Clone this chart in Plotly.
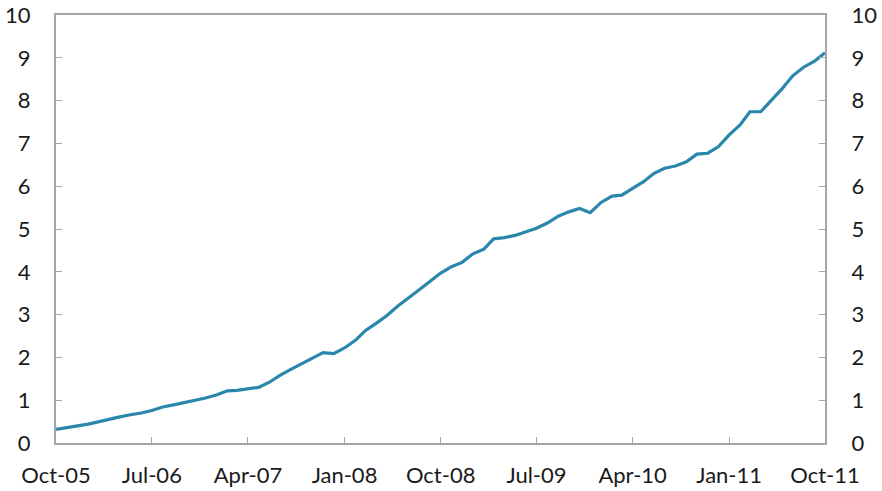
import pandas as pd
import plotly.graph_objects as go

start_month = "2005-10-01"
values = [0.32, 0.36, 0.40, 0.44, 0.50, 0.56, 0.61, 0.66, 0.70, 0.76,
          0.84, 0.89, 0.94, 0.99, 1.05, 1.12, 1.22, 1.23, 1.27, 1.30,
          1.42, 1.58, 1.72, 1.85, 1.97, 2.11, 2.09, 2.22, 2.40, 2.63,
          2.80, 2.98, 3.20, 3.38, 3.58, 3.78, 3.97, 4.12, 4.22, 4.42,
          4.53, 4.77, 4.80, 4.85, 4.93, 5.02, 5.14, 5.30, 5.40, 5.48,
          5.38, 5.62, 5.77, 5.79, 5.95, 6.10, 6.30, 6.42, 6.47, 6.57,
          6.75, 6.77, 6.92, 7.20, 7.43, 7.74, 7.74, 8.00, 8.28, 8.58,
          8.78, 8.92, 9.12]
months = pd.date_range(start_month, periods=len(values), freq="MS")
y_ticks = [0, 1, 2, 3, 4, 5, 6, 7, 8, 9, 10]

font = dict(family="Lato, 'Open Sans', sans-serif", size=22, color="#1a1a1a")
axis_color = "#a6a6a6"

fig = go.Figure()
fig.add_trace(go.Scatter(x=months, y=values, mode="lines",
                         line=dict(color="#2a86ab", width=3.2), showlegend=False))
fig.add_trace(go.Scatter(x=months, y=values, mode="lines", yaxis="y2",
                         line=dict(width=0), opacity=0, showlegend=False, hoverinfo="skip"))

fig.update_layout(
    width=882, height=491,
    margin=dict(l=56, r=57, t=15, b=48),
    paper_bgcolor="white", plot_bgcolor="white",
    font=font,
    xaxis=dict(range=[months[0], months[-1]], tick0=start_month, dtick="M9",
               tickformat="%b-%y", ticks="inside", ticklen=6, tickcolor=axis_color,
               showline=True, linecolor=axis_color, linewidth=2, mirror=True,
               showgrid=False, zeroline=False, ticklabelstandoff=12, automargin=False),
    yaxis=dict(range=[0, 10], tickvals=y_ticks, ticks="inside", ticklen=6,
               tickcolor=axis_color, showline=True, linecolor=axis_color, linewidth=2,
               showgrid=False, zeroline=False, ticklabelstandoff=19, automargin=False),
    yaxis2=dict(range=[0, 10], tickvals=y_ticks, overlaying="y", side="right",
                ticks="inside", ticklen=6, tickcolor=axis_color, showline=True,
                linecolor=axis_color, linewidth=2, showgrid=False, zeroline=False,
                ticklabelstandoff=20, automargin=False),
)

fig.write_html("out.html",
               config={"displayModeBar": False},
               post_script="document.body.style.margin='0';document.body.style.overflow='hidden';")
